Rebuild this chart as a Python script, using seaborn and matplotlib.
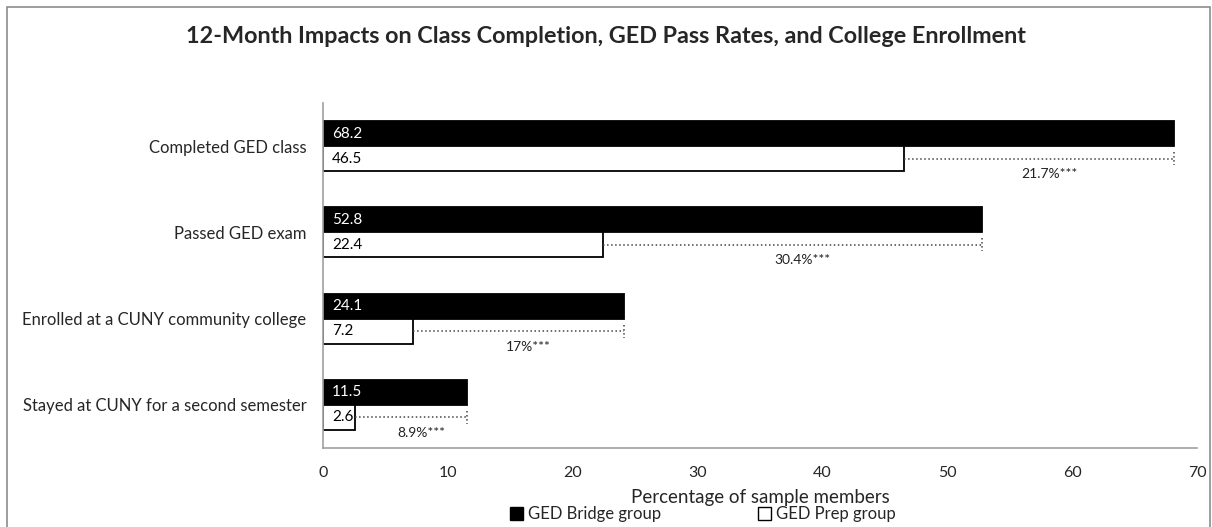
import numpy as np
import pandas as pd
import matplotlib
matplotlib.use('Agg')
import matplotlib.pyplot as plt
import matplotlib.patches as mpatches
import seaborn as sns

# data
categories = ['Completed GED class', 'Passed GED exam',
              'Enrolled at a CUNY community college', 'Stayed at CUNY for a second semester']
bridge = [68.2, 52.8, 24.1, 11.5]
prep = [46.5, 22.4, 7.2, 2.6]
impact_labels = ['21.7%***', '30.4%***', '17%***', '8.9%***']
groups = ['GED Bridge group', 'GED Prep group']

sns.set_style('white')
plt.rcParams['font.family'] = ['Lato', 'DejaVu Sans']

df = pd.DataFrame({
    'Category': categories * 2,
    'Value': bridge + prep,
    'Group': [groups[0]] * 4 + [groups[1]] * 4,
})

fig = plt.figure(figsize=(12.12, 5.27), dpi=100)
ax = fig.add_axes([0.2665, 0.150, 0.9876 - 0.2665, 0.8046 - 0.150])

sns.barplot(data=df, y='Category', x='Value', hue='Group', hue_order=groups,
            order=categories, orient='h', width=0.58, dodge=True,
            palette=['black', 'white'], edgecolor='black', linewidth=1.3,
            saturation=1, legend=False, ax=ax)

h = 0.29
for i in range(len(categories)):
    yb = i - h / 2
    yp = i + h / 2
    ax.text(0.72, yb, f'{bridge[i]}', color='white', va='center', ha='left', fontsize=11)
    ax.text(0.72, yp, f'{prep[i]}', color='black', va='center', ha='left', fontsize=11)
    # dotted bracket showing the impact
    ax.plot([prep[i], bridge[i]], [yp, yp], ls=':', color='#444444', lw=1.1)
    ax.plot([bridge[i], bridge[i]], [yp - 0.075, yp + 0.075], ls=':', color='#444444', lw=1.1)
    ax.text((prep[i] + bridge[i]) / 2 + 0.8, yp + 0.18, impact_labels[i],
            ha='center', va='center', fontsize=10, color='#222222')

ax.set_xlim(0, 70)
ax.set_ylim(3.5, -0.5)
ax.set_xticks(range(0, 71, 10))
ax.set_yticks(np.arange(-0.5, 4, 1))
ax.set_yticklabels([])
ax.set_yticks(range(4), minor=True)
ax.set_yticklabels(categories, minor=True, fontsize=12)
ax.tick_params(axis='y', which='minor', length=0, pad=12)
ax.tick_params(axis='y', which='major', length=7, color='#a0a0a0', direction='out')
ax.tick_params(axis='x', length=7, color='#a0a0a0', direction='out', labelsize=11.5, pad=5.7)
ax.set_ylabel('')
ax.set_xlabel('Percentage of sample members', fontsize=13.5, labelpad=6.5)
for side in ['top', 'right']:
    ax.spines[side].set_visible(False)
for side in ['left', 'bottom']:
    ax.spines[side].set_color('#a0a0a0')
    ax.spines[side].set_linewidth(1.2)

fig.suptitle('12-Month Impacts on Class Completion, GED Pass Rates, and College Enrollment',
             fontsize=16.8, fontweight='bold', x=0.5, y=0.95)

handles = [mpatches.Patch(facecolor='black', edgecolor='black', label=groups[0]),
           mpatches.Patch(facecolor='white', edgecolor='black', label=groups[1])]
fig.legend(handles=handles, loc='center', bbox_to_anchor=(0.58, 0.024), ncol=2,
           frameon=False, fontsize=12, handlelength=0.8, handleheight=0.8,
           handletextpad=0.3, columnspacing=5.8)

# outer chart border
fig.patches.append(mpatches.Rectangle((0.006, -0.02), 0.9925, 1.007, transform=fig.transFigure,
                                      fill=False, edgecolor='#8c8c8c', lw=1.2))

fig.savefig('out.png', dpi=100)
